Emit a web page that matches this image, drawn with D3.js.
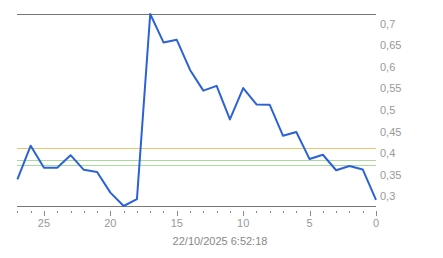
<!DOCTYPE html>
<html><head><meta charset="utf-8">
<script src="https://cdn.jsdelivr.net/npm/d3@7"></script>
<style>body{margin:0;background:#fff}svg{display:block}</style>
</head><body>
<script>
const xs = [27,26,25,24,23,22,21,20,19,18,17,16,15,14,13,12,11,10,9,8,7,6,5,4,3,2,1,0];
const values = [0.339,0.417,0.366,0.366,0.395,0.361,0.356,0.308,0.277,0.293,0.723,0.657,0.663,0.593,0.545,0.556,0.478,0.551,0.513,0.512,0.440,0.449,0.386,0.396,0.360,0.370,0.362,0.291];
const refLines = [0.411, 0.385, 0.372];
const refColors = ["#ecc56a", "#a9dc9b", "#a9dc9b"];
const yTicks = [0.3,0.35,0.4,0.45,0.5,0.55,0.6,0.65,0.7];
const xMajor = [25,20,15,10,5,0];
const dateLabel = "22/10/2025 6:52:18";

const W=443,H=258;
const svg=d3.select("body").append("svg").attr("width",W).attr("height",H);
const x=d3.scaleLinear().domain([27,0]).range([17.4,376]);
const y=d3.scaleLinear().domain([d3.min(values),d3.max(values)]).range([206,14]);
const fmt=d=>String(+d.toFixed(2)).replace(".",",");
const font="Arial, 'Liberation Sans', sans-serif";

refLines.forEach((v,i)=>svg.append("line").attr("x1",17).attr("x2",376)
  .attr("y1",Math.round(y(v))+0.5).attr("y2",Math.round(y(v))+0.5)
  .attr("stroke",refColors[i]).attr("stroke-width",1));

svg.append("line").attr("x1",17).attr("x2",376).attr("y1",14.5).attr("y2",14.5).attr("stroke","#777");
svg.append("line").attr("x1",17).attr("x2",376).attr("y1",206.5).attr("y2",206.5).attr("stroke","#777");

// ticks
d3.range(0,28).forEach(d=>{
  const major=xMajor.includes(d);
  svg.append("line").attr("x1",Math.round(x(d))+0.5).attr("x2",Math.round(x(d))+0.5)
    .attr("y1",major?211:211).attr("y2",major?216:213).attr("stroke","#888");
});
xMajor.forEach(d=>svg.append("text").attr("x",x(d)).attr("y",227).attr("text-anchor","middle")
  .attr("font-family",font).attr("font-size",11).attr("fill","#999").text(d));

yTicks.forEach(d=>svg.append("text").attr("x",380).attr("y",y(d)+4).attr("font-family",font)
  .attr("font-size",11).attr("fill","#999").text(fmt(d)));

svg.append("text").attr("x",220).attr("y",245).attr("text-anchor","middle").attr("font-family",font)
  .attr("font-size",11).attr("fill","#888").text(dateLabel);

const line=d3.line().x((d,i)=>x(xs[i])).y(d=>y(d));
svg.append("path").datum(values).attr("d",line).attr("fill","none").attr("stroke","#2b62d6")
  .attr("stroke-width",2).attr("stroke-linejoin","round");
</script>
</body></html>
